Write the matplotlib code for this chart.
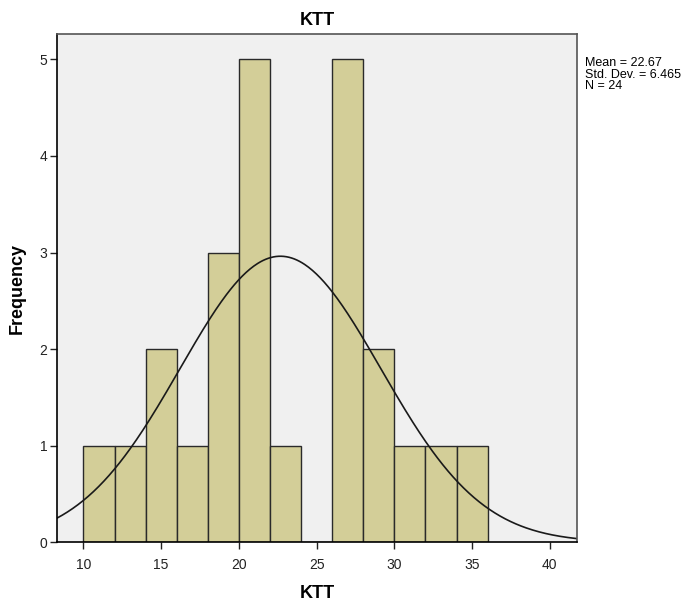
import matplotlib
matplotlib.use('Agg')
import matplotlib.pyplot as plt
import numpy as np

plt.rcParams['font.family'] = ['Liberation Sans', 'DejaVu Sans']

# histogram data
bin_edges = [10, 12, 14, 16, 18, 20, 22, 24, 26, 28, 30, 32, 34, 36]
counts = [1, 1, 2, 1, 3, 5, 1, 0, 5, 2, 1, 1, 1]
mean = 22.67
sd = 6.465
n = 24

fig = plt.figure(figsize=(6.93, 6.03), dpi=100)
ax = fig.add_axes([0.0823, 0.1007, 0.7503, 0.8424])
ax.set_facecolor('#f0f0f0')

ax.hist(bin_edges[:-1], bins=bin_edges, weights=counts,
        color='#d3ce98', edgecolor='#2a2a2a', linewidth=1.0)

# normal curve scaled to counts
xs = np.linspace(8.3, 41.75, 400)
width = bin_edges[1] - bin_edges[0]
ys = n * width / (sd * np.sqrt(2 * np.pi)) * np.exp(-0.5 * ((xs - mean) / sd) ** 2)
ax.plot(xs, ys, color='#1a1a1a', linewidth=1.2)

ax.set_xlim(8.3, 41.75)
ax.set_ylim(0, 5.26)
ax.set_xticks([10, 15, 20, 25, 30, 35, 40])
ax.set_yticks([0, 1, 2, 3, 4, 5])
ax.tick_params(axis='both', direction='out', length=5, width=1, labelsize=10,
               colors='#222222', top=False, right=False)
ax.tick_params(axis='x', pad=6)
ax.tick_params(axis='y', pad=2)
for s in ['left', 'bottom']:
    ax.spines[s].set_color('black')
    ax.spines[s].set_linewidth(1.2)
for s in ['top', 'right']:
    ax.spines[s].set_color('#555555')
    ax.spines[s].set_linewidth(1.2)

ax.set_title('KTT', fontsize=13, fontweight='bold', pad=7)
ax.set_xlabel('KTT', fontsize=13, fontweight='bold', labelpad=10)
ax.set_ylabel('Frequency', fontsize=13, fontweight='bold', labelpad=10)

fig.text(0.8443, 0.905, 'Mean = 22.67\nStd. Dev. = 6.465\nN = 24',
         fontsize=9, va='top', ha='left', linespacing=0.95)

plt.savefig('out.png', dpi=100)
